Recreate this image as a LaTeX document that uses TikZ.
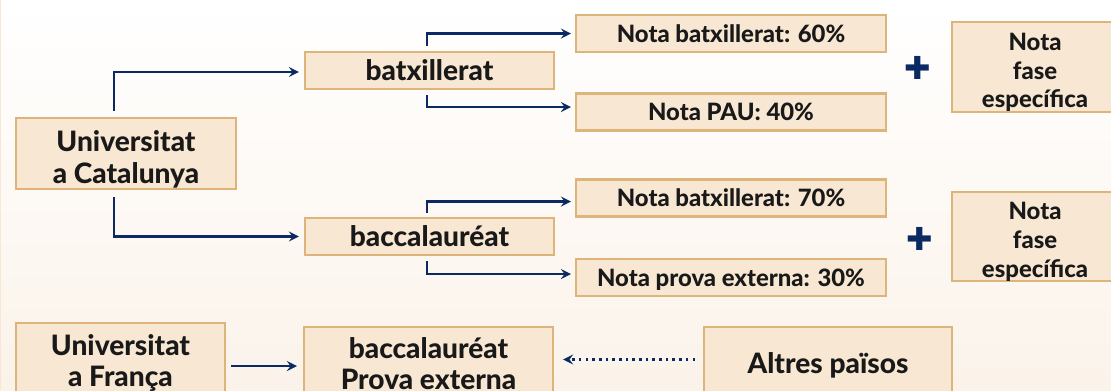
\documentclass[tikz,border=0pt]{standalone}
\usepackage{fontspec}
\setmainfont{Lato}[BoldFont={Lato Heavy}]
\newfontfamily\dejavu{DejaVu Sans}
\usepackage{tikz}
\usetikzlibrary{arrows,shapes,positioning}
\usepackage{xcolor}
\definecolor{acnavy}{RGB}{11,42,99}
\definecolor{acfill}{RGB}{248,231,210}
\definecolor{acedge}{RGB}{221,181,122}
\definecolor{acbg}{RGB}{251,243,234}
\newcommand{\topgap}[1]{\rule{0pt}{#1}}
\tikzstyle{box} = [draw=acedge, fill=acfill, line width=1.2pt, align=center, inner sep=0pt, font=\bfseries\fontsize{16}{18}\selectfont, text=black!90]
\tikzstyle{notebox} = [box, font=\bfseries\fontsize{13.6}{16.4}\selectfont]
\tikzstyle{oneline} = [text depth=-2pt]
\tikzstyle{plus} = [text=acnavy, font=\dejavu\fontsize{18}{18}\selectfont, inner sep=0pt]
\tikzstyle{arrow} = [line width=1.5pt,->,>=stealth,color=acnavy]
\tikzstyle{dotarrow} = [arrow, dash pattern=on 1.4pt off 2.4pt]

\begin{document}
\begin{tikzpicture}[x=0.02cm, y=-0.02cm]
% Background
\useasboundingbox (0,0) rectangle (1111,390);
\fill[top color=white, bottom color=acbg] (0,0) rectangle (1111,390);
\draw[acfill, line width=0.8pt] (0.5,0) -- (0.5,390);

% Catalunya
\node[box, minimum width=4.4cm, minimum height=1.42cm] (uc) at (126,153.5) {\topgap{18.5pt}Universitat\\a Catalunya};
\node[box, oneline, minimum width=4.98cm, minimum height=0.74cm] (batx) at (429.5,70.5) {batxillerat};
\node[box, oneline, minimum width=4.98cm, minimum height=0.74cm] (bacc) at (429.5,236.5) {baccalauréat};

\node[notebox, oneline, minimum width=6.2cm, minimum height=0.74cm] (nb60) at (731,33.5) {Nota batxillerat: 60\%};
\node[notebox, oneline, minimum width=6.2cm, minimum height=0.74cm] (npau) at (731,112) {Nota PAU: 40\%};
\node[notebox, oneline, minimum width=6.2cm, minimum height=0.74cm] (nb70) at (731,198) {Nota batxillerat: 70\%};
\node[notebox, oneline, minimum width=6.2cm, minimum height=0.74cm] (npe30) at (731,277.5) {Nota prova externa: 30\%};

\node[plus] (plus1) at (918,68) {✚};
\node[plus] (plus2) at (920,239) {✚};
\node[notebox, minimum width=3.32cm, minimum height=1.8cm] (fe1) at (1035,67) {\topgap{16pt}Nota\\fase\\específica};
\node[notebox, minimum width=3.32cm, minimum height=1.78cm] (fe2) at (1035,236.5) {\topgap{16pt}Nota\\fase\\específica};

% França i altres
\node[box, minimum width=4.18cm, minimum height=1.6cm] (uf) at (120.5,363) {Universitat\\a França};
\node[box, minimum width=4.98cm, minimum height=1.46cm] (bp) at (428.5,363.5) {baccalauréat\\Prova externa};
\node[box, oneline, minimum width=4.96cm, minimum height=1.46cm] (alt) at (828,363.5) {Altres països};

% Arrows
\draw[arrow] ([xshift=-0.24cm,yshift=0.12cm]uc.north) |- ([xshift=-0.1cm,yshift=-0.03cm]batx.west);
\draw[arrow] ([xshift=-0.24cm,yshift=-0.14cm]uc.south) |- ([xshift=-0.1cm]bacc.west);
\draw[arrow] ([xshift=-0.05cm,yshift=0.1cm]batx.north) |- ([xshift=-0.08cm]nb60.west);
\draw[arrow] ([xshift=-0.05cm,yshift=-0.1cm]batx.south) |- ([xshift=-0.08cm,yshift=0.1cm]npau.west);
\draw[arrow] ([xshift=-0.05cm,yshift=0.08cm]bacc.north) |- ([xshift=-0.08cm,yshift=-0.07cm]nb70.west);
\draw[arrow] ([xshift=-0.05cm,yshift=-0.1cm]bacc.south) |- ([xshift=-0.08cm,yshift=0.07cm]npe30.west);
\draw[arrow, shorten <=0.1cm, shorten >=0.12cm] ([yshift=-0.06cm]uf.east) -- ([yshift=-0.06cm]uf.east -| bp.west);
\draw[dotarrow, shorten <=0.16cm, shorten >=0.18cm] ([yshift=0.08cm]alt.west) -- ([yshift=0.08cm]alt.west -| bp.east);
\end{tikzpicture}
\end{document}
